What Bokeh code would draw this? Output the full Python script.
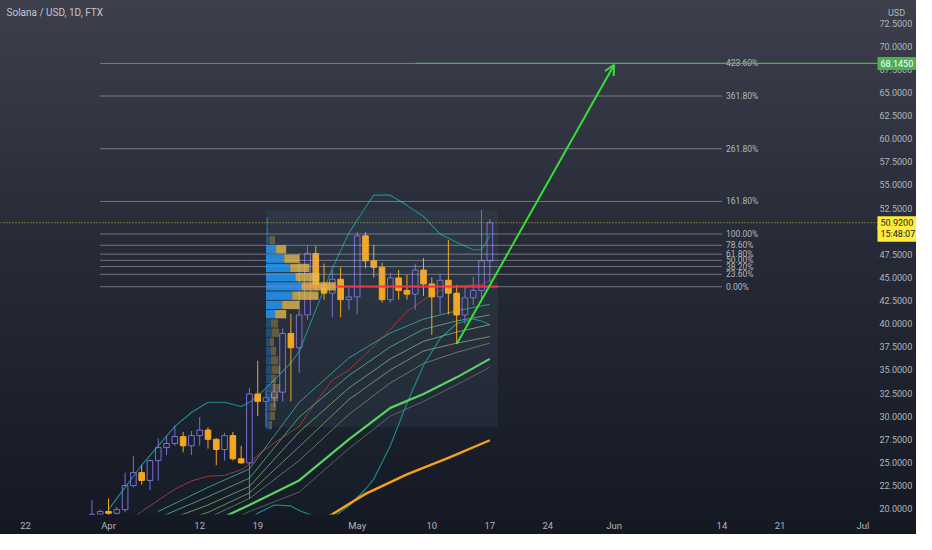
from datetime import date
from bokeh.plotting import figure
from bokeh.models import (Range1d, FixedTicker, NumeralTickFormatter, Label,
                          Arrow, OpenHead, ColumnDataSource, LinearAxis)
from bokeh.core.properties import value
from bokeh.embed import file_html
from bokeh.resources import INLINE

# ---------------- data ----------------
title_text = "Solana / USD, 1D, FTX"
currency = "USD"
first_candle = "2021-03-30"
opens = [19.0, 19.4, 19.7, 19.5, 19.9, 22.5, 23.9, 23.05, 25.2, 26.6, 27.05, 27.8, 26.8, 27.9,
         28.5, 27.5, 26.4, 27.9, 25.4, 24.95, 32.4, 31.6, 32.0, 32.6, 38.95, 37.4, 40.95, 47.6,
         44.2, 43.3, 44.8, 42.6, 42.9, 49.5, 46.8, 46.1, 42.6, 44.95, 43.6, 43.2, 45.8, 44.3,
         42.9, 44.7, 43.3, 40.95, 42.8, 43.6, 46.8]
highs = [20.9, 19.9, 21.1, 20.2, 23.9, 25.7, 24.7, 25.3, 27.6, 27.9, 29.0, 28.3, 28.4, 29.9,
         28.8, 27.6, 28.2, 28.3, 26.8, 33.05, 36.0, 32.8, 33.6, 39.5, 41.05, 47.6, 48.4, 48.4,
         46.5, 45.8, 46.1, 43.9, 49.9, 49.9, 48.5, 46.6, 45.5, 45.8, 45.3, 46.5, 47.1, 45.0,
         45.4, 49.05, 44.2, 44.0, 45.1, 52.3, 51.3]
lows = [18.4, 18.9, 19.0, 19.1, 19.6, 22.3, 22.6, 22.0, 23.05, 25.8, 26.8, 26.1, 25.8, 26.8,
        26.5, 24.7, 25.2, 25.2, 24.85, 21.05, 30.0, 28.8, 31.0, 31.6, 31.6, 34.7, 40.4, 43.6,
        42.6, 40.7, 40.7, 41.5, 41.0, 46.0, 45.0, 42.3, 42.3, 42.6, 42.6, 41.5, 43.0, 38.8,
        41.1, 41.0, 37.8, 40.0, 42.0, 42.3, 44.5]
closes = [19.4, 19.7, 19.5, 19.9, 22.5, 23.9, 23.05, 25.2, 26.6, 27.05, 27.8, 26.8, 27.9, 28.5,
          27.5, 26.4, 27.9, 25.4, 24.95, 32.4, 31.6, 32.0, 32.6, 38.95, 37.4, 40.95, 47.6, 44.2,
          43.3, 44.8, 42.6, 42.9, 49.5, 46.8, 46.1, 42.6, 44.95, 43.6, 43.2, 45.8, 44.3, 42.9,
          44.7, 43.3, 40.95, 42.8, 43.6, 46.8, 50.92]

bb_dates = ["2021-04-01", "2021-04-03", "2021-04-05", "2021-04-07", "2021-04-09", "2021-04-11",
            "2021-04-13", "2021-04-15", "2021-04-17", "2021-04-18", "2021-04-19", "2021-04-21",
            "2021-04-23", "2021-04-24", "2021-04-26", "2021-04-28", "2021-04-30", "2021-05-02",
            "2021-05-03", "2021-05-05", "2021-05-07", "2021-05-09", "2021-05-11", "2021-05-13",
            "2021-05-15", "2021-05-16", "2021-05-17"]
bb_upper = [19.9, 22.3, 24.7, 26.8, 28.9, 30.4, 31.5, 31.5, 31.05, 31.5, 32.2, 33.9, 35.8, 37.0,
            41.5, 46.0, 49.8, 52.6, 53.9, 53.9, 52.8, 51.6, 49.7, 48.8, 48.0, 48.0, 49.5]
bb_basis = [17.2, 18.4, 19.7, 20.9, 22.1, 23.0, 23.5, 23.6, 24.2, 24.8, 25.8, 27.1, 28.3, 28.9,
            31.5, 33.9, 35.0, 36.7, 37.6, 39.4, 41.3, 42.6, 43.6, 44.0, 44.2, 44.2, 44.7]
bb_lower = [14.5, 14.6, 14.8, 15.0, 15.3, 15.8, 16.5, 17.3, 18.2, 18.8, 19.5, 20.4, 20.3, 19.8,
            19.1, 19.0, 20.3, 22.1, 23.2, 26.8, 31.4, 35.5, 38.4, 40.0, 40.5, 40.3, 39.9]

ribbon_dates = ["2021-04-07", "2021-04-13", "2021-04-18", "2021-04-24", "2021-04-30",
                "2021-05-05", "2021-05-09", "2021-05-13", "2021-05-17"]
ema_1 = [19.7, 22.3, 24.3, 31.5, 36.3, 39.0, 40.5, 41.4, 42.1]
ema_2 = [19.0, 21.3, 23.3, 29.9, 34.4, 37.5, 39.4, 40.3, 40.95]
ema_3 = [18.4, 20.4, 22.4, 28.3, 33.05, 36.2, 38.1, 39.1, 39.9]
ema_4 = [17.9, 19.6, 21.7, 26.7, 31.8, 35.0, 37.05, 37.9, 38.6]
ema_5 = [17.4, 19.0, 21.1, 25.2, 30.2, 33.6, 35.7, 36.9, 37.9]
ema_6 = [16.8, 18.3, 20.4, 23.05, 27.5, 30.9, 32.4, 34.2, 36.2]
ema_7 = [16.2, 17.6, 19.7, 21.8, 26.5, 30.0, 31.6, 33.4, 35.3]

slow_ma_dates = ["2021-04-24", "2021-04-28", "2021-05-02", "2021-05-07", "2021-05-12", "2021-05-17"]
slow_ma = [17.6, 19.4, 21.6, 23.7, 25.5, 27.4]

vp_start, vp_end = "2021-04-20", "2021-05-18"
vp_levels = [51.03, 50.03, 49.03, 48.03, 47.03, 46.03, 45.03, 44.03, 43.03, 42.03, 41.03, 40.03,
             39.03, 38.03, 37.03, 36.03, 35.03, 34.03, 33.03, 32.03, 31.03, 30.03, 29.03]
vp_up = [1, 1, 4, 10, 18, 24, 29, 35, 26, 16, 9, 5, 6, 4, 5, 5, 6, 5, 6, 5, 4, 4, 3]
vp_down = [1, 1, 5, 10, 15, 19, 24, 34, 26, 17, 11, 7, 7, 4, 5, 7, 8, 5, 8, 7, 6, 5, 3]
value_area = (40.5, 48.5)

fib_start, fib_end = "2021-03-31", "2021-06-14"
fib_low, fib_high = 44.0, 49.70
fib_levels = [0.0, 0.236, 0.382, 0.5, 0.618, 0.786, 1.0, 1.618, 2.618, 3.618, 4.236]
fib_labels = ["0.00%", "23.60%", "38.20%", "50.00%", "61.80%", "78.60%", "100.00%",
              "161.80%", "261.80%", "361.80%", "423.60%"]

target_price, target_start = 68.145, "2021-05-08"
last_price, countdown = 50.92, "15:48:07"
arrow_from = ("2021-05-13", 37.8)
arrow_to = ("2021-06-01", 68.0)

tick_dates = ["2021-03-22", "2021-04-01", "2021-04-12", "2021-04-19", "2021-05-01", "2021-05-10",
              "2021-05-17", "2021-05-24", "2021-06-01", "2021-06-14", "2021-06-21", "2021-07-01"]
tick_labels = ["22", "Apr", "12", "19", "May", "10", "17", "24", "Jun", "14", "21", "Jul"]
price_ticks = [20, 22.5, 25, 27.5, 30, 32.5, 35, 37.5, 40, 42.5, 45, 47.5, 50, 52.5, 55, 57.5,
               60, 62.5, 65, 67.5, 70, 72.5]

# ---------------- helpers ----------------
EPOCH = date(2021, 4, 1)


def day(s):
    return (date.fromisoformat(s) - EPOCH).days


start_d = day(first_candle)
cx = [start_d + i for i in range(len(opens))]

UP = "#7b6fd6"
DOWN = "#f5a623"
FONT = "Roboto"
TXT = "#b2b5be"

# visible window (days since Apr 1, price); the price scale sits at x_scale
x0, x1 = -13.03, 97.47
x_scale = 91.92
y0, y1 = 19.37, 74.95

p = figure(width=916, height=534, output_backend="svg", toolbar_location=None, tools="",
           x_range=Range1d(x0, x1), y_range=Range1d(y0, y1), y_axis_location=None,
           min_border_left=0, min_border_top=0, min_border_right=0, min_border_bottom=20)
p.background_fill_alpha = 0
p.border_fill_alpha = 0
p.outline_line_color = None
p.grid.visible = False
p.styles = {"background": "linear-gradient(to bottom, #3d404c 0%, #272b37 45%, #141823 100%)"}

yax = LinearAxis(fixed_location=x_scale)
p.add_layout(yax, "right")

for ax in (p.xaxis[0], yax):
    ax.axis_line_color = None
    ax.major_tick_line_color = None
    ax.minor_tick_line_color = None
    ax.major_tick_out = 0
    ax.major_tick_in = 0
    ax.minor_tick_out = 0
    ax.minor_tick_in = 0
    ax.major_label_text_color = TXT
    ax.major_label_text_font = FONT
yax.major_label_text_font_size = "9px"
p.xaxis.major_label_text_font_size = "9.5px"
yax.ticker = FixedTicker(ticks=price_ticks)
yax.formatter = NumeralTickFormatter(format="0.0000")
yax.major_label_standoff = 9
tick_days = [day(s) for s in tick_dates]
p.xaxis.ticker = FixedTicker(ticks=tick_days)
p.xaxis.major_label_overrides = {d: lab for d, lab in zip(tick_days, tick_labels)}
p.xaxis.major_label_standoff = 5

# ---- volume profile box ----
vp_l, vp_r = day(vp_start), day(vp_end)
in_rng = [i for i, x in enumerate(cx) if vp_l <= x < vp_r]
box_lo = min(lows[i] for i in in_rng)
box_hi = max(highs[i] for i in in_rng)
p.quad(left=[vp_l], right=[vp_r], bottom=[box_lo], top=[box_hi],
       fill_color="#6f8fb5", fill_alpha=0.09, line_color=None)

# ---- Bollinger bands ----
bbx = [day(s) for s in bb_dates]
p.varea(x=bbx, y1=bb_lower, y2=bb_upper, fill_color="#198787", fill_alpha=0.04)
p.line(bbx, bb_upper, line_color="#1c8f89", line_width=1.1)
p.line(bbx, bb_lower, line_color="#1c8f89", line_width=1.1)
p.line(bbx, bb_basis, line_color="#9a3a36", line_width=1)

# ---- moving-average ribbon ----
rx = [day(s) for s in ribbon_dates]
ribbon = [(ema_1, "#3aa68c", 1, 0.9), (ema_2, "#5cae7a", 1, 0.85), (ema_3, "#7ab86e", 1, 0.8),
          (ema_4, "#8fbf6e", 1, 0.7), (ema_5, "#6f9f70", 1, 0.7), (ema_6, "#5bd162", 2.2, 1.0),
          (ema_7, "#6a806c", 1, 0.7)]
for ys, col, lw, a in ribbon:
    p.line(rx, ys, line_color=col, line_width=lw, line_alpha=a)
p.line([day(s) for s in slow_ma_dates], slow_ma, line_color="#f7a21b", line_width=2.4)

# ---- candles ----
up_i = [i for i in range(len(cx)) if closes[i] >= opens[i]]
dn_i = [i for i in range(len(cx)) if closes[i] < opens[i]]


def cds(idx):
    return ColumnDataSource(dict(
        x=[cx[i] for i in idx], o=[opens[i] for i in idx], c=[closes[i] for i in idx],
        h=[highs[i] for i in idx], l=[lows[i] for i in idx]))


up, dn = cds(up_i), cds(dn_i)
p.segment(x0="x", y0="h", x1="x", y1="l", source=dn, line_color=DOWN, line_width=1)
p.vbar(x="x", width=0.68, top="o", bottom="c", source=dn, fill_color=DOWN,
       line_color=DOWN, line_width=1)
p.segment(x0="x", y0="h", x1="x", y1="c", source=up, line_color=UP, line_width=1)
p.segment(x0="x", y0="o", x1="x", y1="l", source=up, line_color=UP, line_width=1)
p.vbar(x="x", width=0.68, top="c", bottom="o", source=up, fill_alpha=0,
       line_color=UP, line_width=1)

# ---- fibonacci extension ----
fy = [fib_low + lv * (fib_high - fib_low) for lv in fib_levels]
fs, fe = day(fib_start), day(fib_end)
p.segment(x0=[fs] * len(fy), y0=fy, x1=[fe] * len(fy), y1=fy,
          line_color="#b2b5be", line_alpha=0.55, line_width=1)
p.text(x=[fe] * len(fy), y=fy, text=fib_labels, x_offset=4, text_baseline="middle",
       text_font=value(FONT), text_font_size="8.5px", text_color=TXT)

# ---- volume profile rows + POC ----
totals = [u + d for u, d in zip(vp_up, vp_down)]
poc = vp_levels[totals.index(max(totals))]
p.segment(x0=[vp_l], y0=[poc], x1=[vp_r], y1=[poc], line_color="#f23645", line_width=2)
scale = 0.3 * (vp_r - vp_l) / max(totals)
half = 0.45 * abs(vp_levels[0] - vp_levels[1])
inva = [value_area[0] <= lv <= value_area[1] for lv in vp_levels]
for flag, alpha_b, alpha_y in ((True, 0.85, 0.78), (False, 0.3, 0.32)):
    idx = [i for i in range(len(vp_levels)) if inva[i] == flag]
    b = [vp_levels[i] - half for i in idx]
    t = [vp_levels[i] + half for i in idx]
    ur = [vp_l + vp_up[i] * scale for i in idx]
    dr = [vp_l + (vp_up[i] + vp_down[i]) * scale for i in idx]
    p.quad(left=[vp_l] * len(idx), right=ur, bottom=b, top=t,
           fill_color="#2196f3", fill_alpha=alpha_b, line_color=None)
    p.quad(left=ur, right=dr, bottom=b, top=t,
           fill_color="#e3bb4f", fill_alpha=alpha_y, line_color=None)

# ---- target line, last price line, arrow ----
p.segment(x0=[day(target_start)], y0=[target_price], x1=[x_scale + 1], y1=[target_price],
          line_color="#4caf50", line_width=1.2)
p.segment(x0=[x0], y0=[last_price], x1=[x_scale + 1], y1=[last_price], line_color="#d9c441",
          line_alpha=0.85, line_dash="1 2", line_width=1)
p.add_layout(Arrow(end=OpenHead(size=10, line_color="#35e035", line_width=2),
                   x_start=day(arrow_from[0]), y_start=arrow_from[1],
                   x_end=day(arrow_to[0]), y_end=arrow_to[1],
                   line_color="#35e035", line_width=2))

# ---- labels ----
p.add_layout(Label(x=x0, y=y1, x_offset=6, y_offset=-12, text=title_text, text_font=FONT,
                   text_font_size="10px", text_color="#c3c6ce", text_baseline="middle"))
p.add_layout(Label(x=x_scale, y=y1, x_offset=26, y_offset=-12, text=currency, text_font=FONT,
                   text_font_size="9px", text_color=TXT, text_align="center",
                   text_baseline="middle"))
p.add_layout(Label(x=x_scale, y=target_price, x_offset=7, text=f"{target_price:.4f}",
                   text_font=FONT, text_font_size="9px", text_color="#ffffff",
                   text_baseline="middle", background_fill_color="#4caf50", padding=3))
p.add_layout(Label(x=x_scale, y=last_price, x_offset=7, text=f"{last_price:.4f}", text_font=FONT,
                   text_font_size="9px", text_color="#131722", text_baseline="middle",
                   background_fill_color="#ffeb3b", padding=3))
p.add_layout(Label(x=x_scale, y=last_price, x_offset=7, y_offset=-11, text=countdown,
                   text_font=FONT, text_font_size="9px", text_color="#131722",
                   text_baseline="middle", background_fill_color="#ffeb3b", padding=3))

open("out.html", "w").write(file_html(p, INLINE))
